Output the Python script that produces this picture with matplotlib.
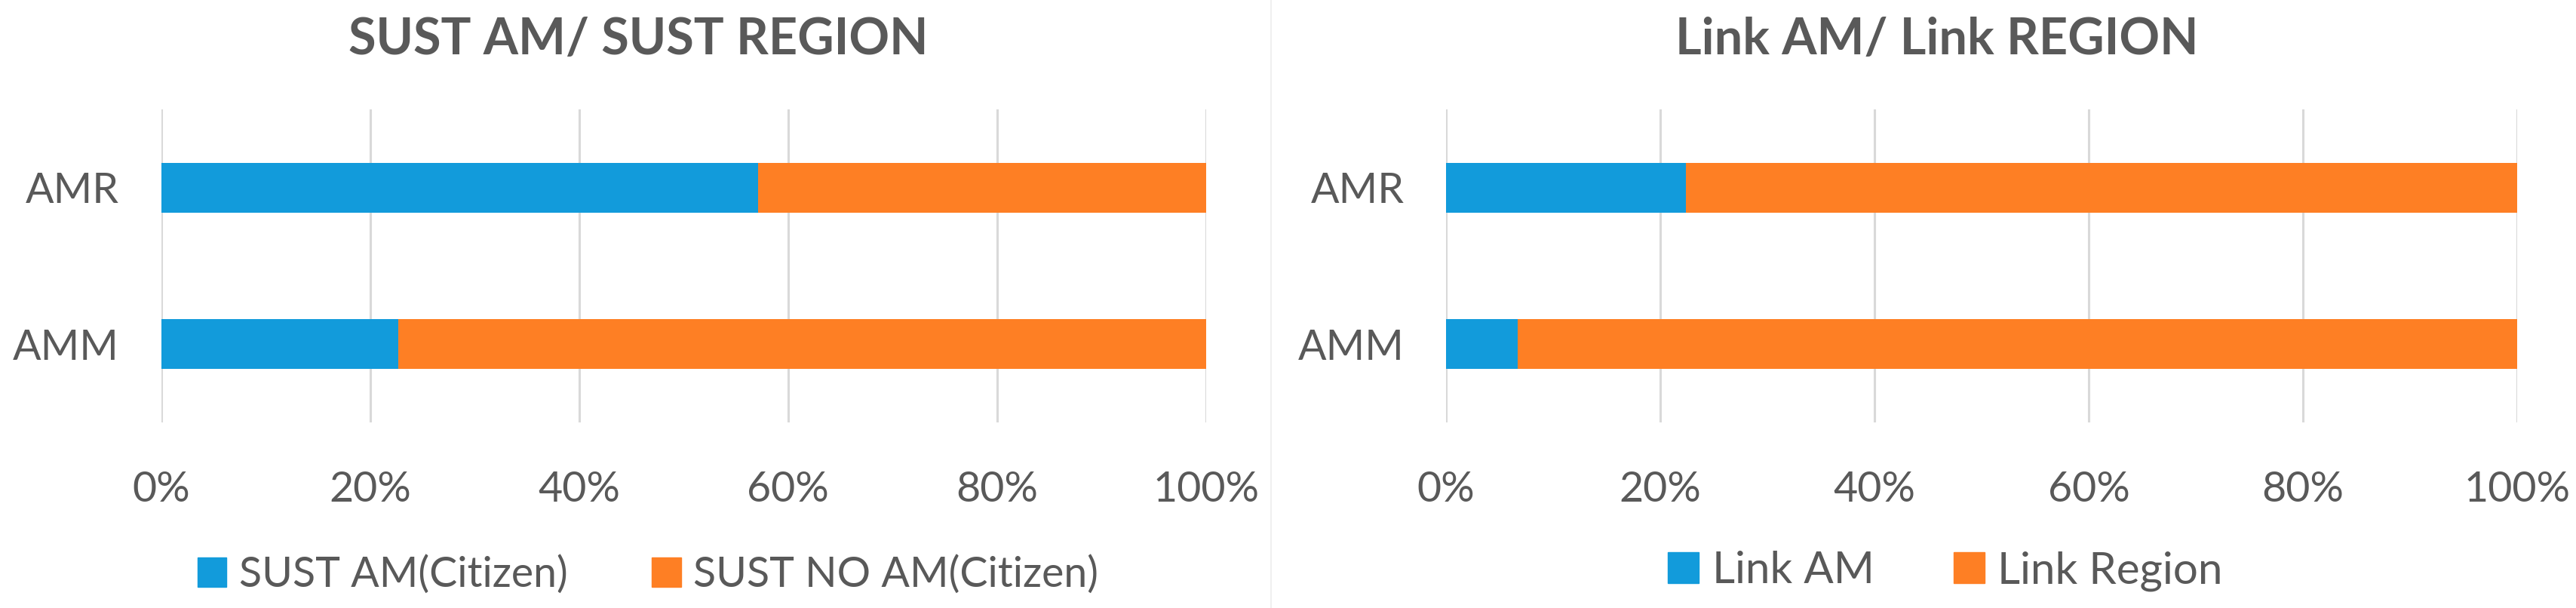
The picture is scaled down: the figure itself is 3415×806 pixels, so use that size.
import matplotlib
matplotlib.use("Agg")
import matplotlib.pyplot as plt
from matplotlib.ticker import PercentFormatter
from matplotlib.patches import Patch

# data (shares of each bar, 0..1)
categories = ["AMM", "AMR"]

sust_am = [0.227, 0.571]
sust_no_am = [1 - v for v in sust_am]

link_am = [0.067, 0.224]
link_region = [1 - v for v in link_am]

ticks = [0, 0.2, 0.4, 0.6, 0.8, 1.0]

BLUE = "#129bdb"
ORANGE = "#fe7f24"
TEXT = "#595959"
GRID = "#d9d9d9"

plt.rcParams["font.family"] = ["Lato", "DejaVu Sans"]

W, H = 3416, 806
fig = plt.figure(figsize=(W / 100, H / 100), dpi=100)


def px_box(x0, x1, y0, y1):
    # pixel box (top-left origin) -> figure fraction rect
    return [x0 / W, 1 - y1 / H, (x1 - x0) / W, (y1 - y0) / H]


def draw_panel(ax, first, second):
    ypos = range(len(categories))
    ax.barh(ypos, first, height=0.32, color=BLUE, zorder=3)
    ax.barh(ypos, second, left=first, height=0.32, color=ORANGE, zorder=3)
    ax.set_xlim(0, 1)
    ax.set_ylim(-0.5, len(categories) - 0.5)
    ax.set_yticks(list(ypos))
    ax.set_yticklabels(categories)
    ax.set_xticks(ticks)
    ax.xaxis.set_major_formatter(PercentFormatter(1.0, decimals=0))
    ax.tick_params(axis="both", length=0, labelsize=40, labelcolor=TEXT)
    ax.tick_params(axis="x", pad=46)
    ax.tick_params(axis="y", pad=40)
    ax.grid(axis="x", color=GRID, linewidth=2.2, zorder=0)
    ax.set_axisbelow(True)
    for s in ax.spines.values():
        s.set_visible(False)


ax1 = fig.add_axes(px_box(213.6, 1599, 145, 560))
draw_panel(ax1, sust_am, sust_no_am)

ax2 = fig.add_axes(px_box(1917, 3337, 145, 560))
draw_panel(ax2, link_am, link_region)

# titles
fig.text(846 / W, 1 - 53 / H, "SUST AM/ SUST REGION", ha="center", va="center",
         fontsize=48, fontweight="bold", color=TEXT)
fig.text(2568 / W, 1 - 53 / H, "Link AM/ Link REGION", ha="center", va="center",
         fontsize=48, fontweight="bold", color=TEXT)

# legends
leg1 = fig.legend(handles=[Patch(color=BLUE, label="SUST AM(Citizen)"),
                           Patch(color=ORANGE, label="SUST NO AM(Citizen)")],
                  loc="center", bbox_to_anchor=(859 / W, 1 - 762 / H), ncol=2,
                  frameon=False, fontsize=40, handlelength=0.7, handleheight=0.7,
                  handletextpad=0.3, columnspacing=2.0, labelcolor=TEXT)
leg2 = fig.legend(handles=[Patch(color=BLUE, label="Link AM"),
                           Patch(color=ORANGE, label="Link Region")],
                  loc="center", bbox_to_anchor=(2579 / W, 1 - 757 / H), ncol=2,
                  frameon=False, fontsize=42, handlelength=0.7, handleheight=0.7,
                  handletextpad=0.3, columnspacing=1.8, labelcolor=TEXT)

# faint border between the two charts
fig.add_artist(plt.Line2D([1685 / W, 1685 / W], [0, 1], transform=fig.transFigure,
                          color="#f0f0f0", linewidth=1.5))

fig.savefig("out.png", dpi=100, facecolor="white")
